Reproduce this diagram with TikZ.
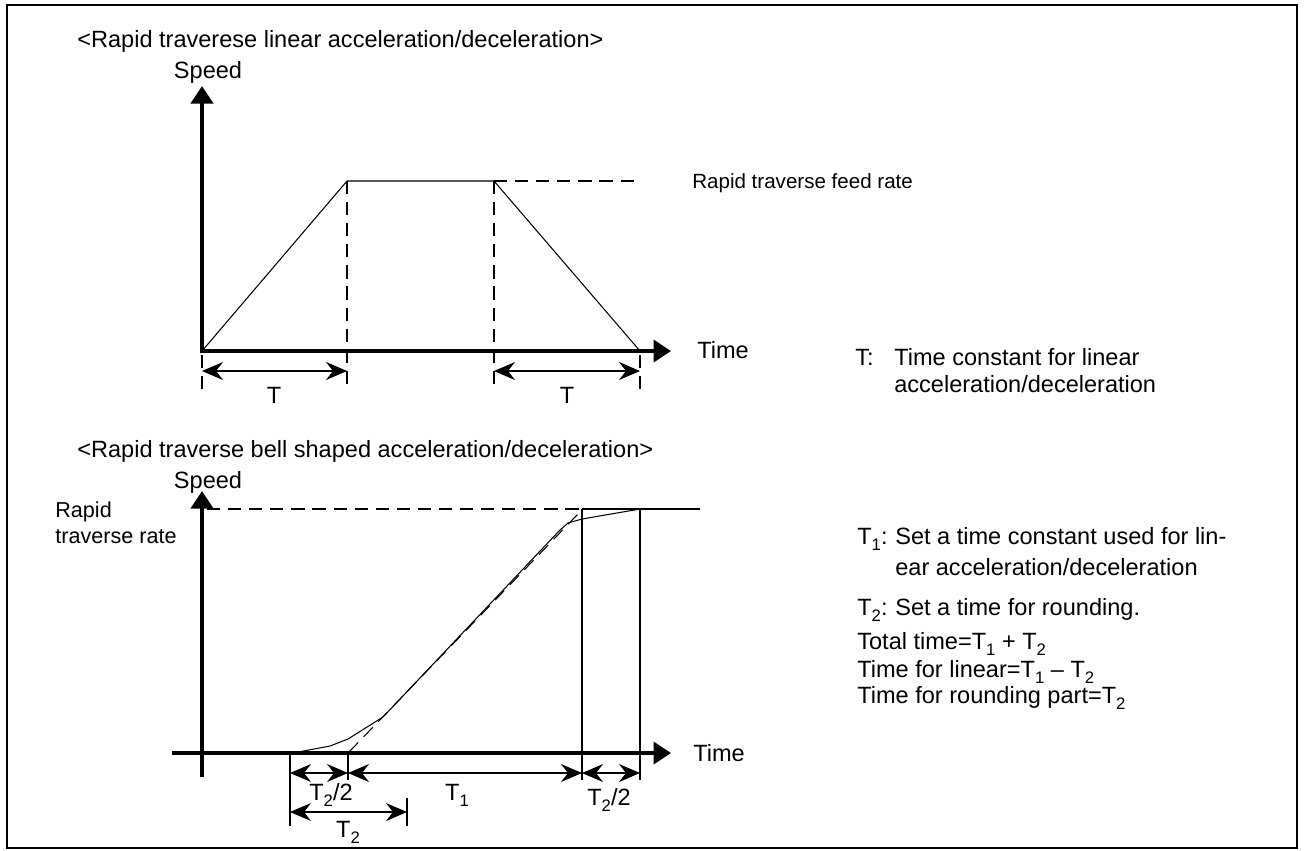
\documentclass[tikz,border=0pt]{standalone}
\usepackage{fontspec}
\setmainfont{Liberation Sans}
\usetikzlibrary{arrows.meta}

\newcommand\lsub[1]{\raisebox{-3.5pt}{\fontsize{9.5}{10}\selectfont #1}}

\begin{document}
\begin{tikzpicture}[x=0.02cm, y=-0.02cm,
  axis/.style={line width=2.3pt, -{Triangle[length=3.5mm, width=4.4mm]}},
  thin/.style={line width=0.6pt},
  guide/.style={line width=0.6pt, dash pattern=on 7.5pt off 4.5pt},
  dimline/.style={line width=0.6pt, {Stealth[length=4.2mm, width=3.6mm, inset=1.4mm]}-{Stealth[length=4.2mm, width=3.6mm, inset=1.4mm]}},
  txt/.style={font=\fontsize{13.4}{15}\selectfont, inner sep=0pt, anchor=base west},
  small/.style={font=\fontsize{11.7}{14}\selectfont, inner sep=0pt, anchor=base west},
  lbl/.style={font=\fontsize{13.4}{15}\selectfont, inner sep=0pt, anchor=base}
]
  \useasboundingbox (0,0) rectangle (1304,850);
  \draw[line width=1.1pt] (7,5) rectangle (1297,848);

  % Linear acc/dec
  \node[txt] (titleA) at (77,47) {<Rapid traverese linear acceleration/deceleration>};
  \node[lbl] (speedA) at (208,78) {Speed};
  \draw[axis] (202,353) -- (202,86);
  \draw[axis] (201,351) -- (671,351);
  \node[txt] (timeA) at (697,358) {Time};

  \coordinate (a0) at (202,351);
  \coordinate (a1) at (347,181);
  \coordinate (a2) at (494,181);
  \coordinate (a3) at (640,351);
  \draw[thin] (a0) -- (a1) -- (a2) -- (a3);
  \draw[guide] (a2) -- (634,181);
  \node[small] (feedA) at (692,188) {Rapid traverse feed rate};

  \draw[guide] (a1) -- (347,386);
  \draw[guide] (a2) -- (494,386);
  \draw[guide] (202,355) -- (202,390);
  \draw[guide] (640,355) -- (640,390);
  \draw[dimline] (202,371) -- (347,371);
  \draw[dimline] (494,371) -- (640,371);
  \node[lbl] (tA) at (274,403) {T};
  \node[lbl] (tB) at (567,403) {T};

  \node[txt] (keyA) at (855,365) {T:};
  \node[txt] (descA1) at (894,365) {Time constant for linear};
  \node[txt] (descA2) at (894,392) {acceleration/deceleration};

  % Bell shaped acc/dec
  \node[txt] (titleB) at (77,457) {<Rapid traverse bell shaped acceleration/deceleration>};
  \node[lbl] (speedB) at (208,488) {Speed};
  \node[small, font=\fontsize{12.3}{14}\selectfont] (rateB1) at (55,517) {Rapid};
  \node[small, font=\fontsize{12.3}{14}\selectfont] (rateB2) at (55,543) {traverse rate};
  \draw[axis] (202,777) -- (202,491);
  \draw[axis] (172,753) -- (671,753);
  \node[txt] (timeB) at (693,761) {Time};

  \draw[guide] (207,509) -- (582,509);
  \draw[thin] (582,509) -- (700,509);
  \draw[thin] (582,509) -- (582,780);
  \draw[thin] (640,509) -- (640,780);
  \draw[thin] (290,753) -- (290,826);
  \draw[thin] (348,753) -- (348,780);
  \draw[thin] (407,798) -- (407,826);

  \draw[thin] (298,752) -- (330,746) -- (348,739) -- (383,717) -- (560,530)
    -- (568,523) -- (582,519) -- (640,509);
  \draw[guide] (349,752) -- (578,514);

  \draw[dimline] (290,773) -- (348,773);
  \draw[dimline] (348,773) -- (582,773);
  \draw[dimline] (582,773) -- (640,773);
  \draw[dimline] (290,812) -- (407,812);
  \node[lbl] (t2a) at (331,800) {T\lsub{2}/2};
  \node[lbl] (t1) at (457,800) {T\lsub{1}};
  \node[lbl] (t2b) at (609,805) {T\lsub{2}/2};
  \node[lbl] (t2) at (348,837) {T\lsub{2}};

  \node[txt] (keyB1) at (857,544) {T\lsub{1}:};
  \node[txt] (descB1) at (895,544) {Set a time constant used for lin-};
  \node[txt] (descB2) at (895,575) {ear acceleration/deceleration};
  \node[txt] (keyB2) at (857,615) {T\lsub{2}:};
  \node[txt] (descB3) at (895,615) {Set a time for rounding.};
  \node[txt] (sumB1) at (857,649) {Total time=T\lsub{1} + T\lsub{2}};
  \node[txt] (sumB2) at (857,677) {Time for linear=T\lsub{1} -- T\lsub{2}};
  \node[txt] (sumB3) at (857,703) {Time for rounding part=T\lsub{2}};
\end{tikzpicture}
\end{document}
